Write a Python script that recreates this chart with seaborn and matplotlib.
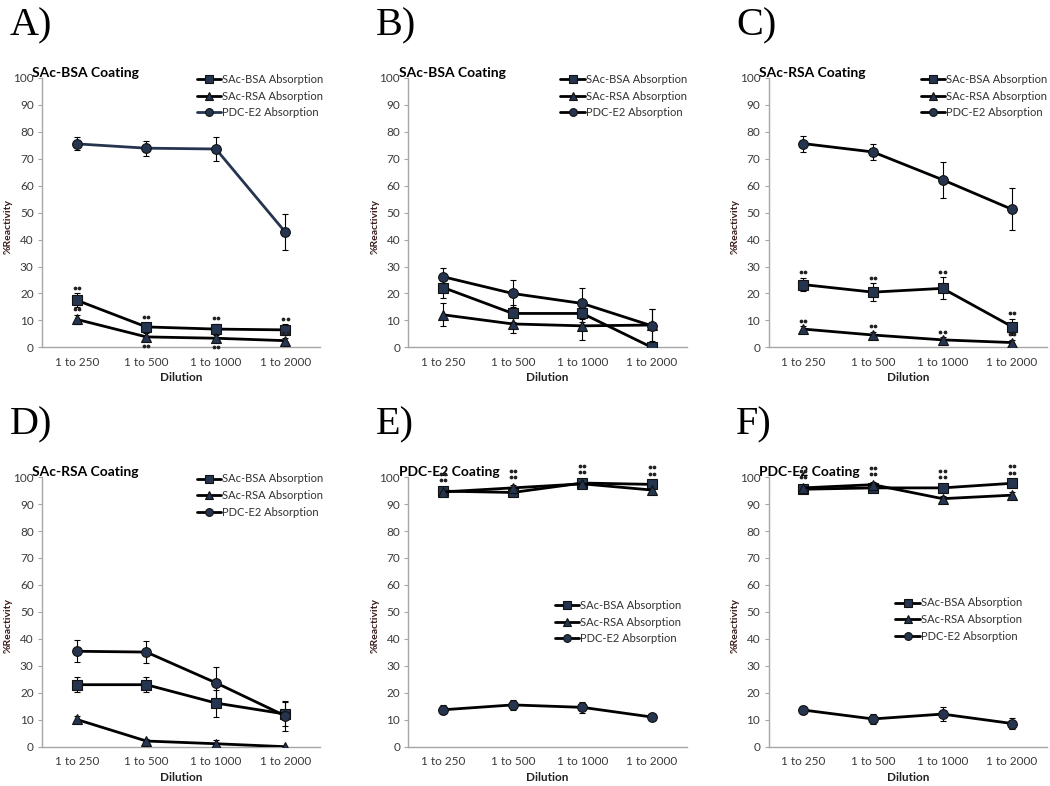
import numpy as np
import pandas as pd
import matplotlib
matplotlib.use('Agg')
import matplotlib.pyplot as plt
import seaborn as sns

# Dilution categories shared by all panels
dilutions = ['1 to 250', '1 to 500', '1 to 1000', '1 to 2000']
series_names = ['SAc-BSA Absorption', 'SAc-RSA Absorption', 'PDC-E2 Absorption']

# Panel A - SAc-BSA coating
a_bsa = [17.5, 7.6, 6.8, 6.5]
a_bsa_err = [2.5, 1.5, 2.0, 2.0]
a_rsa = [10.4, 3.9, 3.4, 2.5]
a_rsa_err = [1.8, 1.3, 1.3, 1.0]
a_pdc = [75.5, 73.9, 73.6, 42.7]
a_pdc_err = [2.4, 2.8, 4.3, 6.7]

# Panel B - SAc-BSA coating
b_bsa = [22.2, 12.6, 12.6, 0.0]
b_bsa_err = [3.7, 3.0, 3.0, 0.0]
b_rsa = [12.1, 8.7, 8.0, 8.3]
b_rsa_err = [4.2, 3.5, 5.4, 6.0]
b_pdc = [26.2, 20.0, 16.3, 8.0]
b_pdc_err = [3.3, 4.9, 5.9, 6.4]

# Panel C - SAc-RSA coating
c_bsa = [23.3, 20.5, 21.9, 7.7]
c_bsa_err = [2.5, 3.3, 4.1, 3.0]
c_rsa = [6.8, 4.6, 2.8, 1.8]
c_rsa_err = [1.0, 1.2, 1.0, 1.0]
c_pdc = [75.6, 72.5, 62.2, 51.2]
c_pdc_err = [3.0, 3.0, 6.7, 7.8]

# Panel D - SAc-RSA coating
d_bsa = [23.0, 23.0, 16.2, 12.1]
d_bsa_err = [2.7, 2.7, 5.0, 4.5]
d_rsa = [10.1, 2.1, 1.1, 0.0]
d_rsa_err = [1.3, 0.8, 1.2, 0.0]
d_pdc = [35.4, 35.1, 23.7, 11.4]
d_pdc_err = [4.1, 4.0, 5.9, 5.4]

# Panel E - PDC-E2 coating
e_bsa = [94.8, 94.3, 97.8, 97.3]
e_bsa_err = [1.0, 1.0, 1.0, 1.0]
e_rsa = [94.5, 96.0, 97.5, 95.2]
e_rsa_err = [1.0, 1.0, 1.0, 1.0]
e_pdc = [13.7, 15.5, 14.6, 11.0]
e_pdc_err = [1.6, 2.0, 2.0, 0.8]

# Panel F - PDC-E2 coating
f_bsa = [95.5, 96.0, 96.0, 97.7]
f_bsa_err = [1.0, 1.0, 1.0, 1.0]
f_rsa = [96.0, 97.2, 92.0, 93.3]
f_rsa_err = [1.0, 1.0, 1.0, 1.0]
f_pdc = [13.6, 10.3, 12.1, 8.6]
f_pdc_err = [1.5, 1.8, 2.5, 2.2]

# significance marks: (series index, dilution index, direction, rows)
a_sig = [(0, 0, 1, 1), (1, 0, 1, 1), (0, 1, 1, 1), (1, 1, -1, 1),
         (0, 2, 1, 1), (1, 2, -1, 1), (0, 3, 1, 1), (1, 3, 1, 1)]
c_sig = [(0, i, 1, 1) for i in range(4)] + [(1, i, 1, 1) for i in range(4)]
e_sig = [(0, 0, 1, 2), (1, 1, 1, 2), (0, 2, 1, 2), (0, 3, 1, 2)]
f_sig = [(1, 0, 1, 2), (1, 1, 1, 2), (0, 2, 1, 2), (0, 3, 1, 2)]

panels = [
    ('A)', 'SAc-BSA Coating', [a_bsa, a_rsa, a_pdc], [a_bsa_err, a_rsa_err, a_pdc_err], a_sig),
    ('B)', 'SAc-BSA Coating', [b_bsa, b_rsa, b_pdc], [b_bsa_err, b_rsa_err, b_pdc_err], []),
    ('C)', 'SAc-RSA Coating', [c_bsa, c_rsa, c_pdc], [c_bsa_err, c_rsa_err, c_pdc_err], c_sig),
    ('D)', 'SAc-RSA Coating', [d_bsa, d_rsa, d_pdc], [d_bsa_err, d_rsa_err, d_pdc_err], []),
    ('E)', 'PDC-E2 Coating', [e_bsa, e_rsa, e_pdc], [e_bsa_err, e_rsa_err, e_pdc_err], e_sig),
    ('F)', 'PDC-E2 Coating', [f_bsa, f_rsa, f_pdc], [f_bsa_err, f_rsa_err, f_pdc_err], f_sig),
]

sns.set_style('white')
plt.rcParams['font.family'] = ['Lato', 'DejaVu Sans']

navy = '#25344f'
tick_col = '#3a3a3a'
spine_col = '#a6a6a6'
markers = ['s', '^', 'o']

fig = plt.figure(figsize=(10.5, 7.86), dpi=100)

lefts = [0.040, 0.389, 0.732]
bottoms = [0.558, 0.050]
width = 0.265
height = 0.343
legend_pos = {'A)': (0.54, 1.03), 'B)': (0.53, 1.03), 'C)': (0.53, 1.03),
              'D)': (0.54, 1.03), 'E)': (0.51, 0.56), 'F)': (0.44, 0.57)}

pos = np.arange(len(dilutions))

for k, (tag, title, vals, errs, sig) in enumerate(panels):
    col = k % 3
    row = k // 3
    ax = fig.add_axes([lefts[col], bottoms[row], width, height])

    for s, name in enumerate(series_names):
        df = pd.DataFrame({'x': pos, 'y': vals[s]})
        line_col = navy if (tag == 'A)' and s == 2) else 'black'
        ax.errorbar(pos, vals[s], yerr=errs[s], fmt='none', ecolor='black',
                    elinewidth=0.8, capsize=2.5, capthick=0.8, zorder=2)
        sns.lineplot(data=df, x='x', y='y', ax=ax, color=line_col, lw=2.0,
                     marker=markers[s], markersize=7,
                     markerfacecolor=navy, markeredgecolor='#111111',
                     markeredgewidth=0.8, label=name, zorder=3)

    # significance dots
    for s, i, d, rows in sig:
        gap = 3.0 if rows > 1 else 2.0
        base = vals[s][i] + d * (errs[s][i] + gap)
        for r in range(rows):
            yy = base + d * r * 2.3
            ax.plot([pos[i] - 0.03, pos[i] + 0.03], [yy, yy], ls='none',
                    marker='o', ms=1.7, color='#222222', zorder=4, clip_on=False)

    ax.set_xlim(-0.5, 3.5)
    ax.set_ylim(0, 100)
    ax.set_yticks(range(0, 101, 10))
    ax.set_xticks(pos)
    ax.set_xticklabels(dilutions)
    ax.tick_params(axis='y', which='major', length=3, width=0.8, color=spine_col,
                   labelsize=8.5, labelcolor=tick_col, pad=3, left=True)
    ax.tick_params(axis='x', which='major', length=0, labelsize=8.5,
                   labelcolor=tick_col, pad=7)
    for sp in ['top', 'right']:
        ax.spines[sp].set_visible(False)
    for sp in ['left', 'bottom']:
        ax.spines[sp].set_color(spine_col)
        ax.spines[sp].set_linewidth(1.0)

    ax.set_xlabel('Dilution', fontsize=8.5, fontweight='bold', color='#222222', labelpad=3)
    ax.set_ylabel('%Reactivity', fontsize=7.5, fontweight='bold', color='#3a1c1c')
    ax.yaxis.set_label_coords(-0.105, 0.45)

    ax.text(-0.035, 0.995, title, transform=ax.transAxes, ha='left', va='bottom',
            fontsize=10, fontweight='bold', color='black')

    leg = ax.legend(loc='upper left', bbox_to_anchor=legend_pos[tag], frameon=False,
                    fontsize=8, handlelength=2.2, handletextpad=0.1,
                    labelspacing=0.5, borderaxespad=0, markerscale=0.8)
    for t in leg.get_texts():
        t.set_color('#303030')

    fig.text(lefts[col] - 0.031, bottoms[row] + height + 0.09, tag, ha='left', va='top',
             fontsize=29, family='Liberation Serif', color='black')

fig.savefig('out.png', dpi=100)
